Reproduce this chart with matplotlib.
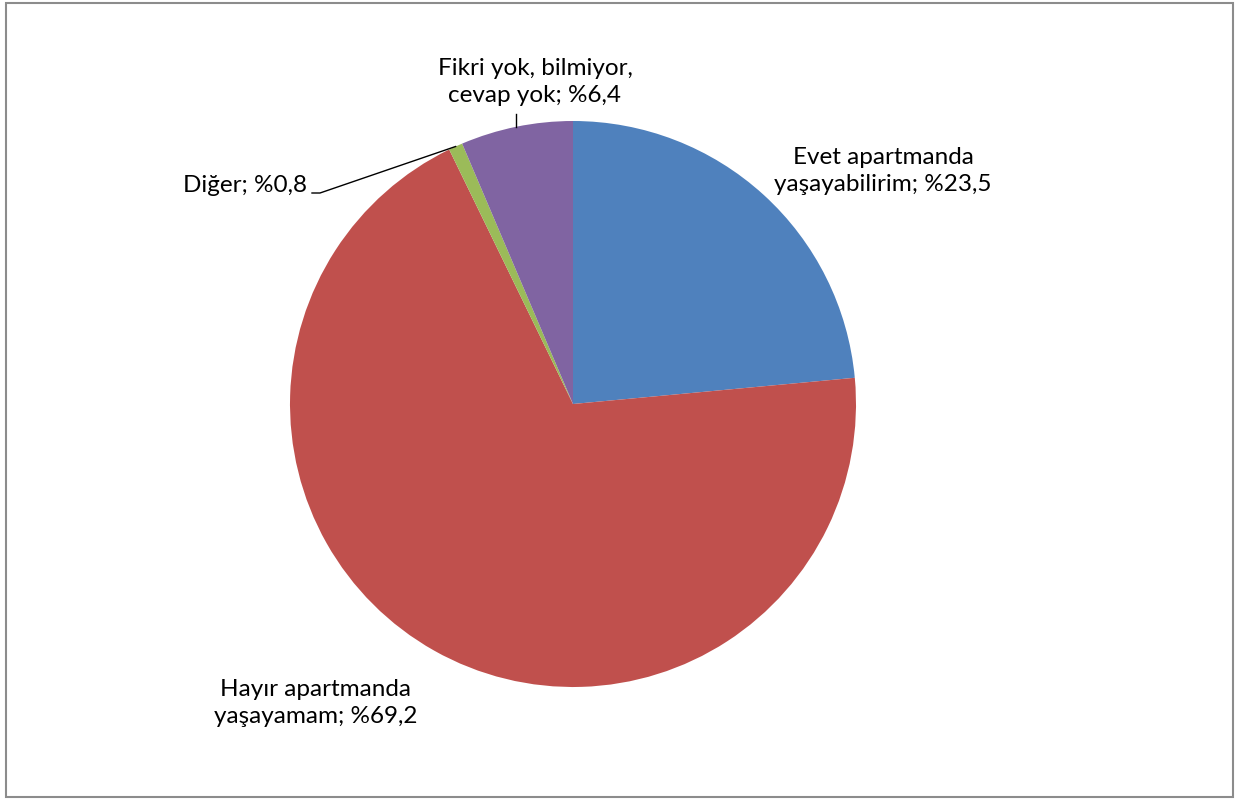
import numpy as np
import matplotlib
matplotlib.use("Agg")
import matplotlib.pyplot as plt
from matplotlib.patches import Rectangle

categories = ["Evet apartmanda\nyaşayabilirim", "Hayır apartmanda\nyaşayamam", "Diğer", "Fikri yok, bilmiyor,\ncevap yok"]
values = [23.5, 69.2, 0.8, 6.4]
value_labels = ["%23,5", "%69,2", "%0,8", "%6,4"]
colors = ["#4F81BD", "#C0504D", "#9BBB59", "#8064A2"]

plt.rcParams["font.family"] = ["Lato", "DejaVu Sans"]

W, H = 1240, 800
fig = plt.figure(figsize=(W / 100, H / 100), dpi=100)
ax = fig.add_axes([0, 0, 1, 1])

cx, cy, r = 573, H - 404, 283
wedges, _ = ax.pie(values, colors=colors, startangle=90, counterclock=False,
                   radius=r, center=(cx, cy), frame=True,
                   wedgeprops=dict(linewidth=0))
ax.set_xlim(0, W)
ax.set_ylim(0, H)
ax.set_aspect("equal")
ax.axis("off")


def edge_point(w):
    mid = np.deg2rad((w.theta1 + w.theta2) / 2)
    return cx + r * np.cos(mid), cy + r * np.sin(mid)


# label positions (image pixels, y from top)
label_pos = [(883, 171), (316, 703), (245, 186), (535, 82)]
fs = 17.5
for cat, vl, (lx, ly) in zip(categories, value_labels, label_pos):
    ax.text(lx, H - ly, f"{cat}; {vl}", ha="center", va="center",
            fontsize=fs, color="black", linespacing=1.36)

# leader lines
ex, ey = edge_point(wedges[2])
ax.plot([312, 320, ex], [H - 193, H - 193, ey], color="black", lw=1)
ex, ey = edge_point(wedges[3])
ax.plot([ex, ex], [H - 114, ey], color="black", lw=1)

fig.patches.append(Rectangle((5.5 / W, 3.5 / H), (1233 - 5.5) / W, (797 - 3.5) / H,
                             transform=fig.transFigure, fill=False,
                             edgecolor="#8c8c8c", lw=1.5))

fig.savefig("out.png", dpi=100)
